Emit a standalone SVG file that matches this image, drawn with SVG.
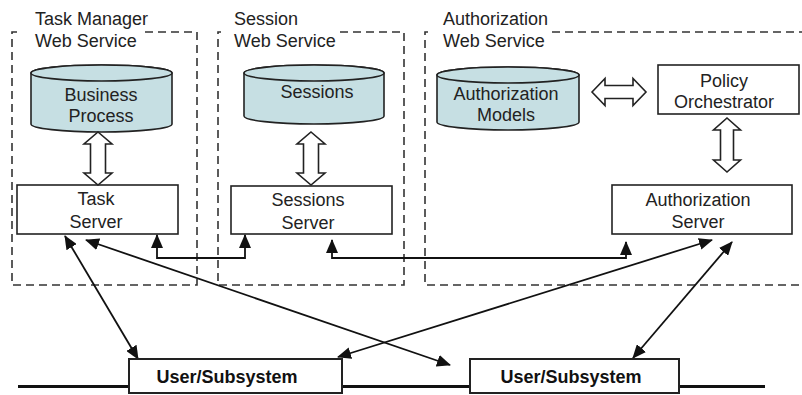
<svg xmlns="http://www.w3.org/2000/svg" width="802" height="395" viewBox="0 0 802 395">
  <style>
    .bg { fill: #ffffff; }
    .frame { fill: none; stroke: #333; stroke-width: 1.6; stroke-dasharray: 8 5; }
    .box { fill: #ffffff; stroke: #222; stroke-width: 1.6; }
    .ubox { fill: #ffffff; stroke: #222; stroke-width: 2; }
    .db { fill: #c6dfe3; stroke: #222; stroke-width: 1.6; }
    .hollow { fill: #ffffff; stroke: #222; stroke-width: 1.6; stroke-linejoin: miter; }
    .link { fill: none; stroke: #111; stroke-width: 1.8; marker-start: url(#ah); marker-end: url(#ah); }
    .bus { fill: none; stroke: #111; stroke-width: 3; }
    .lbl { font-family: "Liberation Sans", Arial, sans-serif; font-size: 18px; fill: #222; }
    .c { text-anchor: middle; }
    .b { font-weight: bold; fill: #111; }
  </style>
  <defs>
    <marker id="ah" markerUnits="userSpaceOnUse" markerWidth="14" markerHeight="12" viewBox="0 0 14 12" refX="13" refY="6" orient="auto-start-reverse">
      <path d="M0,0 L14,6 L0,12 z" fill="#111"/>
    </marker>
  </defs>

  <rect class="bg" x="0" y="0" width="802" height="395"/>

  <!-- service boundaries -->
  <g id="task-manager-ws">
    <path class="frame" d="M145,32 H197 V285 H12 V32 H17"/>
    <text class="lbl" x="35" y="25">Task Manager</text>
    <text class="lbl" x="35" y="47">Web Service</text>
  </g>
  <g id="session-ws">
    <path class="frame" d="M340,32 H404 V285 H218 V32 H221"/>
    <text class="lbl" x="234" y="25">Session</text>
    <text class="lbl" x="234" y="47">Web Service</text>
  </g>
  <g id="authorization-ws">
    <path class="frame" d="M552,32 H812 M812,285 H425 V32 H428"/>
    <text class="lbl" x="443" y="25">Authorization</text>
    <text class="lbl" x="443" y="47">Web Service</text>
  </g>

  <!-- data stores -->
  <g id="business-process">
    <path class="db" d="M31,73 A70.5,8 0 0 1 172,73 V124 A70.5,8 0 0 1 31,124 Z"/>
    <ellipse class="db" cx="101.5" cy="73" rx="70.5" ry="8"/>
    <text class="lbl c" x="101" y="101">Business</text>
    <text class="lbl c" x="101" y="122">Process</text>
  </g>
  <g id="sessions">
    <path class="db" d="M244,73 A70,8 0 0 1 384,73 V116 A70,8 0 0 1 244,116 Z"/>
    <ellipse class="db" cx="314" cy="73" rx="70" ry="8"/>
    <text class="lbl c" x="317" y="98">Sessions</text>
  </g>
  <g id="authorization-models">
    <path class="db" d="M437,75 A71,8 0 0 1 579,75 V122 A71,8 0 0 1 437,122 Z"/>
    <ellipse class="db" cx="508" cy="75" rx="71" ry="8"/>
    <text class="lbl c" x="506" y="100">Authorization</text>
    <text class="lbl c" x="506" y="121">Models</text>
  </g>

  <!-- servers -->
  <g id="policy-orchestrator">
    <rect class="box" x="658" y="65" width="141" height="49"/>
    <text class="lbl c" x="724" y="87">Policy</text>
    <text class="lbl c" x="724" y="108">Orchestrator</text>
  </g>
  <g id="task-server">
    <rect class="box" x="17" y="185" width="161" height="49"/>
    <text class="lbl c" x="96" y="205">Task</text>
    <text class="lbl c" x="96" y="228">Server</text>
  </g>
  <g id="sessions-server">
    <rect class="box" x="231" y="186" width="161" height="48"/>
    <text class="lbl c" x="308" y="206">Sessions</text>
    <text class="lbl c" x="308" y="229">Server</text>
  </g>
  <g id="authorization-server">
    <rect class="box" x="612" y="185" width="180" height="49"/>
    <text class="lbl c" x="698" y="206">Authorization</text>
    <text class="lbl c" x="698" y="228">Server</text>
  </g>

  <!-- connectors -->
  <g id="connectors">
    <!-- hollow two-way arrows -->
    <polygon class="hollow" points="98,132 112,144 105.5,144 105.5,173 112,173 98,185 84,173 90.5,173 90.5,144 84,144"/>
    <polygon class="hollow" points="311,132 325,144 318.5,144 318.5,173 325,173 311,185 297,173 303.5,173 303.5,144 297,144"/>
    <polygon class="hollow" points="592,92 605,78.5 605,85.5 633,85.5 633,78.5 646,92 633,105.5 633,98.5 605,98.5 605,105.5"/>
    <polygon class="hollow" points="727,118 740.5,130 733.5,130 733.5,160 740.5,160 727,172 713.5,160 720.5,160 720.5,130 713.5,130"/>

    <!-- server-to-server links -->
    <path class="link" d="M157,235 V258 H245 V235"/>
    <path class="link" d="M332,240 V258 H626 V242"/>

    <!-- server-to-client links -->
    <path class="link" d="M65,236 L138,359"/>
    <path class="link" d="M86,240 L450,365"/>
    <path class="link" d="M712,240 L338,357"/>
    <path class="link" d="M732,242 L633,358"/>
  </g>

  <!-- client bus -->
  <path class="bus" d="M18,386.5 H765"/>
  <g id="user-subsystem-1">
    <rect class="ubox" x="129" y="359" width="213" height="34"/>
    <text class="lbl c b" x="227" y="383">User/Subsystem</text>
  </g>
  <g id="user-subsystem-2">
    <rect class="ubox" x="470" y="359" width="209" height="34"/>
    <text class="lbl c b" x="571" y="383">User/Subsystem</text>
  </g>
</svg>
